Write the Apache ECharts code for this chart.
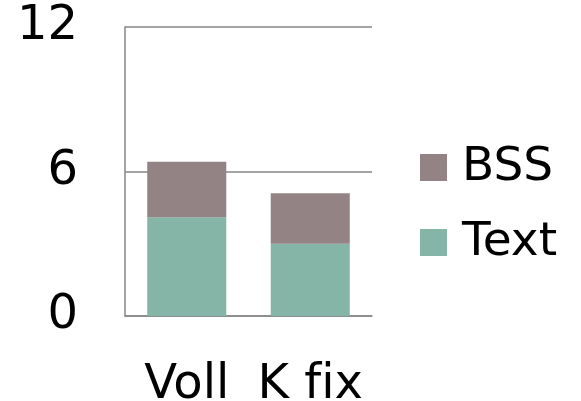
<!DOCTYPE html>
<html>
<head>
<meta charset="utf-8">
<script src="https://cdn.jsdelivr.net/npm/echarts@6/dist/echarts.min.js"></script>
<style>
  html, body { margin: 0; padding: 0; background: #ffffff; }
  #chart { width: 581px; height: 401px; }
</style>
</head>
<body>
<div id="chart"></div>
<script>
// Categories and stacked series values (ZWNJ keeps "f" and "i" unligated)
const categories = ['Voll', 'K f\u200Cix'];
const textValues = [4.1, 3.0];
const bssValues = [2.3, 2.1];
const yTicks = { min: 0, max: 12, interval: 6 };

const FONT = 'DejaVu Sans';
const AXIS_GRAY = '#868686';

const chart = echarts.init(document.getElementById('chart'), null, { renderer: 'canvas' });

chart.setOption({
  backgroundColor: '#ffffff',
  animation: false,
  grid: { left: 125, right: 209, top: 27, bottom: 85, containLabel: false, outerBoundsMode: 'none' },
  legend: {
    orient: 'vertical',
    left: 420,
    top: 144,
    padding: 0,
    itemWidth: 27,
    itemHeight: 27,
    itemGap: 28,
    icon: 'rect',
    data: ['BSS', 'Text'],
    textStyle: { fontFamily: FONT, fontSize: 47, color: '#000000', padding: [0, 0, 0, 10], lineHeight: 46 }
  },
  xAxis: {
    type: 'category',
    data: categories,
    axisLine: { show: true, lineStyle: { color: AXIS_GRAY, width: 1.5 } },
    axisTick: { show: false },
    axisLabel: {
      interval: 0,
      hideOverlap: false,
      fontFamily: FONT,
      fontSize: 48,
      color: '#000000',
      margin: 46
    }
  },
  yAxis: {
    type: 'value',
    min: yTicks.min,
    max: yTicks.max,
    interval: yTicks.interval,
    axisLine: { show: true, lineStyle: { color: AXIS_GRAY, width: 1.5 } },
    axisTick: { show: false },
    splitLine: { show: true, lineStyle: { color: AXIS_GRAY, width: 1.5 } },
    axisLabel: {
      fontFamily: FONT,
      fontSize: 48,
      color: '#000000',
      margin: 47,
      padding: [4, 0, 0, 0]
    }
  },
  series: [
    {
      name: 'Text',
      type: 'bar',
      stack: 'total',
      barCategoryGap: '36%',
      data: textValues,
      itemStyle: { color: '#84b5a6' }
    },
    {
      name: 'BSS',
      type: 'bar',
      stack: 'total',
      barCategoryGap: '36%',
      data: bssValues,
      itemStyle: { color: '#948385' }
    }
  ]
});
</script>
</body>
</html>
